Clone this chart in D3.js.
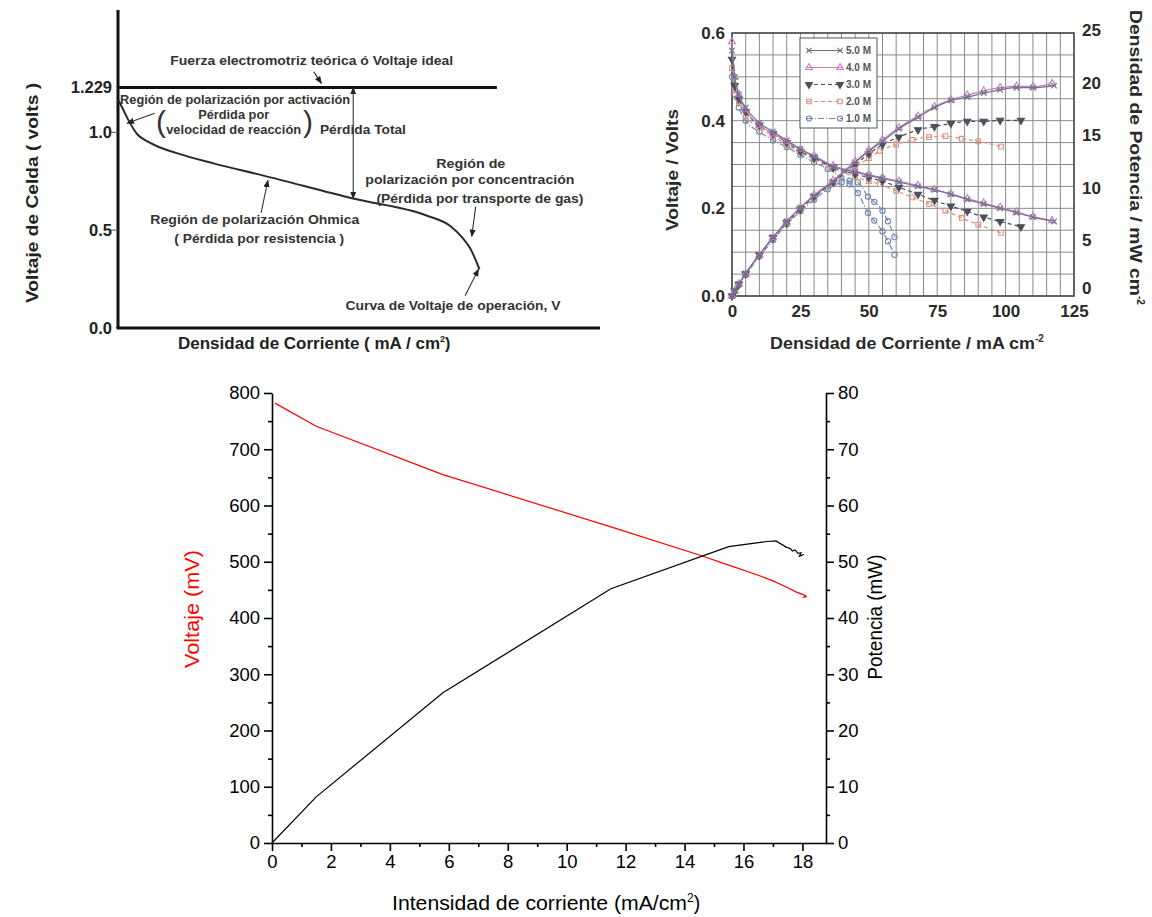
<!DOCTYPE html>
<html>
<head>
<meta charset="utf-8">
<script src="https://cdn.jsdelivr.net/npm/d3@7"></script>
<style>
body { margin: 0; background: #fff; }
svg { display: block; }
text { font-family: "Liberation Sans", Arial, sans-serif; }
</style>
</head>
<body>
<script>
// ---- top left: ideal polarization curve
let polCurrent = [0, 1, 2, 4, 6, 8, 12, 20, 30, 49, 64, 69, 71.5, 73, 75];
let polVoltage = [1.168, 1.12, 1.07, 0.99, 0.955, 0.93, 0.895, 0.84, 0.78, 0.66, 0.575, 0.52, 0.46, 0.41, 0.30];
let idealVoltage = 1.229;
let polTicks = [0.0, 0.5, 1.0, 1.229];
let polTickLabels = ["0.0", "0.5", "1.0", "1.229"];

// ---- top right: methanol concentration curves
let concLabels = ["5.0 M", "4.0 M", "3.0 M", "2.0 M", "1.0 M"];
let current5M = [0, 1, 2.5, 5, 10, 15, 20, 25, 30, 37, 45, 50, 55, 61, 68, 74, 80, 86, 92, 98, 104, 110, 117.7];
let voltage5M = [0.56, 0.50, 0.46, 0.43, 0.395, 0.375, 0.355, 0.335, 0.318, 0.295, 0.283, 0.275, 0.268, 0.26, 0.25, 0.242, 0.232, 0.22, 0.21, 0.2, 0.19, 0.18, 0.17];
let power5M = [0, 0.5, 1.15, 2.15, 3.95, 5.6, 7.1, 8.4, 9.5, 10.9, 12.7, 13.75, 14.7, 15.9, 17.0, 17.9, 18.6, 18.9, 19.3, 19.6, 19.8, 19.8, 20.0];
let current4M = [0, 1, 2.5, 5, 10, 15, 20, 25, 30, 37, 45, 50, 55, 61, 68, 74, 80, 86, 92, 98, 104, 110, 117];
let voltage4M = [0.58, 0.50, 0.46, 0.425, 0.39, 0.37, 0.352, 0.335, 0.32, 0.297, 0.285, 0.277, 0.27, 0.262, 0.252, 0.243, 0.233, 0.222, 0.212, 0.202, 0.192, 0.181, 0.172];
let power4M = [0, 0.5, 1.15, 2.1, 3.9, 5.55, 7.05, 8.4, 9.6, 11.0, 12.8, 13.85, 14.85, 16.0, 17.1, 18.0, 18.65, 19.1, 19.5, 19.8, 19.95, 19.9, 20.2];
let current3M = [0, 1, 2.5, 5, 10, 15, 20, 25, 30, 37, 45, 50, 55, 61, 68, 74, 80, 86, 92, 98, 105.6];
let voltage3M = [0.54, 0.48, 0.45, 0.42, 0.39, 0.37, 0.35, 0.33, 0.315, 0.293, 0.278, 0.27, 0.262, 0.248, 0.232, 0.218, 0.205, 0.193, 0.18, 0.17, 0.158];
let power3M = [0, 0.48, 1.1, 2.1, 3.9, 5.55, 7.0, 8.25, 9.45, 10.8, 12.5, 13.5, 14.4, 15.1, 15.8, 16.1, 16.4, 16.6, 16.6, 16.7, 16.7];
let current2M = [0, 1, 2.5, 5, 10, 15, 20, 25, 30, 37, 45, 50, 54, 60, 66, 72, 78, 84, 90, 98.3];
let voltage2M = [0.52, 0.47, 0.44, 0.41, 0.385, 0.365, 0.345, 0.328, 0.312, 0.29, 0.272, 0.262, 0.255, 0.24, 0.225, 0.21, 0.195, 0.178, 0.163, 0.144];
let power2M = [0, 0.47, 1.1, 2.05, 3.85, 5.5, 6.9, 8.2, 9.35, 10.7, 12.2, 13.1, 13.8, 14.4, 14.85, 15.1, 15.2, 14.95, 14.7, 14.2];
let current1M = [0, 1, 2.5, 5, 10, 15, 20, 25, 30, 35, 40, 43, 46, 49.7, 52, 55, 57, 59.4];
let voltage1M = [0.5, 0.46, 0.43, 0.4, 0.375, 0.355, 0.34, 0.322, 0.305, 0.29, 0.27, 0.255, 0.235, 0.19, 0.172, 0.147, 0.125, 0.094];
let power1M = [0, 0.46, 1.07, 2.0, 3.75, 5.3, 6.8, 8.05, 9.15, 10.15, 10.8, 10.95, 10.8, 9.45, 8.95, 8.1, 7.1, 5.6];
let trCurrentTicks = [0, 25, 50, 75, 100, 125];
let trVoltTicks = [0, 0.2, 0.4, 0.6];
let trPowerTicks = [0, 5, 10, 15, 20, 25];

// ---- bottom: measured cell
let cellCurrent = [0.1, 1.5, 5.8, 11.5, 14.5, 15.5, 16.5, 17.0, 17.45, 17.8, 18.0, 18.1, 18.05, 18.15];
let cellVoltage = [782, 741, 655, 562, 512, 494, 476, 466, 455, 446, 442, 440, 437, 438];
let powerCurrent = [0, 1.5, 5.8, 11.5, 15.5, 16.8, 17.1, 17.45, 17.6, 17.66, 17.75, 17.85, 17.95, 17.9, 18.05];
let cellPower = [0, 8.2, 26.7, 45.2, 52.7, 53.6, 53.7, 52.6, 52.3, 51.9, 52.1, 51.5, 51.6, 51.0, 51.3];
let bottomCurrentTicks = d3.range(0, 19, 2);
let bottomVoltTicks = d3.range(0, 801, 100);
let bottomPowerTicks = d3.range(0, 81, 10);

var svg = d3.select("body").append("svg")
    .attr("width", 1152)
    .attr("height", 917);

var defs = svg.append("defs");
defs.append("marker")
    .attr("id", "arrow")
    .attr("viewBox", "0 0 10 10")
    .attr("refX", 9).attr("refY", 5)
    .attr("markerWidth", 7).attr("markerHeight", 7)
    .attr("orient", "auto-start-reverse")
    .append("path").attr("d", "M0,1 L10,5 L0,9 Z").attr("fill", "#222");

/* ================= TOP LEFT ================= */
var tl = svg.append("g");
var xTL = d3.scaleLinear().domain([0, 100]).range([118, 600]);
var yTL = d3.scaleLinear().domain([0, idealVoltage]).range([328, 87.5]);

// axes (thick lines)
tl.append("line").attr("x1", xTL(0)).attr("x2", xTL(0)).attr("y1", 10).attr("y2", yTL(0))
    .attr("stroke", "#111").attr("stroke-width", 3);
tl.append("line").attr("x1", xTL(0) - 1.5).attr("x2", xTL(100)).attr("y1", yTL(0)).attr("y2", yTL(0))
    .attr("stroke", "#111").attr("stroke-width", 3);
// ideal voltage line
tl.append("line").attr("x1", xTL(0)).attr("x2", xTL(78.6)).attr("y1", yTL(idealVoltage)).attr("y2", yTL(idealVoltage))
    .attr("stroke", "#111").attr("stroke-width", 3);

// ticks + labels
polTicks.forEach((t, i) => {
    if (t == 0.5 || t == 1.0) {
        tl.append("line").attr("x1", xTL(0) - 8).attr("x2", xTL(0)).attr("y1", yTL(t)).attr("y2", yTL(t))
            .attr("stroke", "#555").attr("stroke-width", 1);
    }
    tl.append("text").attr("x", 112).attr("y", yTL(t)).attr("dy", "0.35em")
        .attr("text-anchor", "end").attr("font-weight", "bold").attr("font-size", 16.5)
        .attr("fill", "#222").text(polTickLabels[i]);
});

// curve
tl.append("path")
    .datum(polCurrent.map((c, i) => [c, polVoltage[i]]))
    .attr("fill", "none").attr("stroke", "#2a2a2a").attr("stroke-width", 2)
    .attr("d", d3.line().x(d => xTL(d[0])).y(d => yTL(d[1])).curve(d3.curveMonotoneX));

// titles
tl.append("text").attr("transform", "translate(38,193) rotate(-90)")
    .attr("text-anchor", "middle").attr("font-weight", "bold").attr("font-size", 16).attr("fill", "#222")
    .attr("textLength", 220).attr("lengthAdjust", "spacingAndGlyphs")
    .text("Voltaje de Celda  ( volts )");
var tlx = tl.append("text").attr("x", 178).attr("y", 349)
    .attr("font-weight", "bold").attr("font-size", 16).attr("fill", "#222");
tlx.append("tspan").attr("textLength", 262).attr("lengthAdjust", "spacingAndGlyphs").text("Densidad de Corriente  ( mA / cm");
tlx.append("tspan").attr("font-size", 9).attr("dy", -7).text("2");
tlx.append("tspan").attr("dy", 7).text(")");

// annotations
var note = (txt, x, v, w, anchor) => {
    tl.append("text").attr("x", xTL(x)).attr("y", yTL(v)).attr("dy", "0.35em")
        .attr("text-anchor", anchor || "middle").attr("font-weight", "bold")
        .attr("font-size", 12.5).attr("fill", "#333")
        .attr("textLength", w).attr("lengthAdjust", "spacingAndGlyphs")
        .text(txt);
};
var arrow = (x1, v1, x2, v2, both) => {
    tl.append("line").attr("x1", xTL(x1)).attr("y1", yTL(v1)).attr("x2", xTL(x2)).attr("y2", yTL(v2))
        .attr("stroke", "#333").attr("stroke-width", 1.1)
        .attr("marker-end", "url(#arrow)")
        .attr("marker-start", both ? "url(#arrow)" : null);
};
note("Fuerza electromotriz teórica ó Voltaje ideal", 40.2, 1.367, 283);
arrow(40.6, 1.31, 42.2, 1.25);
note("Región de polarización por activación", 24.3, 1.168, 230);
note("Pérdida por", 24.0, 1.092, 71);
note("velocidad de reacción", 24.0, 1.015, 135);
tl.append("text").attr("x", xTL(8.9)).attr("y", yTL(1.056)).attr("dy", "0.35em").attr("text-anchor", "middle")
    .attr("font-size", 30).attr("fill", "#333").text("(");
tl.append("text").attr("x", xTL(39.4)).attr("y", yTL(1.056)).attr("dy", "0.35em").attr("text-anchor", "middle")
    .attr("font-size", 30).attr("fill", "#333").text(")");
arrow(7.6, 1.097, 1.9, 1.046);
note("Pérdida Total", 41.9, 1.015, 86, "start");
arrow(48.8, idealVoltage, 48.8, 0.662, true);
note("Región de", 73.2, 0.842, 69);
note("polarización por concentración", 73.0, 0.76, 209);
note("(Pérdida por transporte de gas)", 75.1, 0.663, 207);
arrow(74.2, 0.62, 73.4, 0.468);
note("Región de polarización Ohmica", 28.4, 0.556, 209);
note("( Pérdida por resistencia )", 29.3, 0.459, 170);
arrow(29.7, 0.59, 31.1, 0.755);
note("Curva de Voltaje de operación, V", 69.5, 0.112, 215);
arrow(72.0, 0.165, 74.8, 0.30);

/* ================= TOP RIGHT ================= */
var tr = svg.append("g");
var xTR = d3.scaleLinear().domain([0, 125]).range([732, 1074]);
var yTRv = d3.scaleLinear().domain([0, 0.6]).range([296, 33]);
var yTRp = d3.scaleLinear().domain([0, 25]).range([296, 33]);

// grid
tr.selectAll("line.gv").data(d3.range(0, 126, 5)).enter().append("line")
    .attr("x1", d => xTR(d)).attr("x2", d => xTR(d)).attr("y1", yTRv(0)).attr("y2", yTRv(0.6))
    .attr("stroke", "#8a8a8a").attr("stroke-width", 1);
tr.selectAll("line.gh").data(d3.range(0, 0.601, 0.05)).enter().append("line")
    .attr("x1", xTR(0)).attr("x2", xTR(125)).attr("y1", d => yTRv(d)).attr("y2", d => yTRv(d))
    .attr("stroke", "#8a8a8a").attr("stroke-width", 1);
tr.append("rect").attr("x", xTR(0)).attr("y", yTRv(0.6))
    .attr("width", xTR(125) - xTR(0)).attr("height", yTRv(0) - yTRv(0.6))
    .attr("fill", "none").attr("stroke", "#444").attr("stroke-width", 1.5);

var series = [
    { name: concLabels[0], cur: current5M, v: voltage5M, p: power5M, color: "#6e7290", dash: null, sym: d3.symbolTimes || d3.symbolCross, fill: false },
    { name: concLabels[1], cur: current4M, v: voltage4M, p: power4M, color: "#c67fb8", dash: null, sym: d3.symbolTriangle, fill: false },
    { name: concLabels[2], cur: current3M, v: voltage3M, p: power3M, color: "#4e4e5c", dash: "4,3", sym: d3.symbolTriangle, fill: true, flip: true },
    { name: concLabels[3], cur: current2M, v: voltage2M, p: power2M, color: "#dd8f7c", dash: "4,3", sym: d3.symbolSquare, fill: false },
    { name: concLabels[4], cur: current1M, v: voltage1M, p: power1M, color: "#7088b2", dash: "6,2,1,2", sym: d3.symbolCircle, fill: false }
];

var lineTR = d3.line().curve(d3.curveMonotoneX);
series.slice().reverse().forEach(s => {
    [["v", yTRv], ["p", yTRp]].forEach(([key, ys]) => {
        var pts = s.cur.map((c, i) => [xTR(c), ys(s[key][i])]);
        tr.append("path").attr("d", lineTR(pts))
            .attr("fill", "none").attr("stroke", s.color).attr("stroke-width", 1.2)
            .attr("stroke-dasharray", s.dash);
        tr.selectAll(null).data(pts).enter().append("path")
            .attr("transform", d => `translate(${d[0]},${d[1]})` + (s.flip ? " rotate(180)" : ""))
            .attr("d", d3.symbol().type(s.sym).size(22))
            .attr("fill", s.fill ? s.color : "none")
            .attr("stroke", s.color).attr("stroke-width", 1.1);
    });
});

// legend
var lg = tr.append("g");
lg.append("rect").attr("x", 800).attr("y", 38).attr("width", 77).attr("height", 90)
    .attr("fill", "#fff").attr("stroke", "#555").attr("stroke-width", 1);
series.forEach((s, i) => {
    var y = 50.5 + i * 17;
    lg.append("line").attr("x1", 807).attr("x2", 842).attr("y1", y).attr("y2", y)
        .attr("stroke", s.color).attr("stroke-width", 1.2).attr("stroke-dasharray", s.dash);
    [809, 840].forEach(x => {
        lg.append("path").attr("transform", `translate(${x},${y})` + (s.flip ? " rotate(180)" : ""))
            .attr("d", d3.symbol().type(s.sym).size(20))
            .attr("fill", s.fill ? s.color : "none").attr("stroke", s.color).attr("stroke-width", 1.1);
    });
    lg.append("text").attr("x", 846).attr("y", y).attr("dy", "0.35em")
        .attr("font-family", "'Liberation Serif', serif").attr("font-size", 10).attr("font-weight", "bold")
        .attr("fill", "#555").text(s.name);
});

// tick labels
var boldTick = sel => sel.selectAll("text").attr("font-weight", "bold").attr("font-size", 17)
    .attr("fill", "#2a2a2a").attr("font-family", "'Liberation Sans', Arial, sans-serif");
tr.append("g").attr("transform", `translate(${xTR(0)},0)`)
    .call(d3.axisLeft(yTRv).tickValues(trVoltTicks).tickFormat(d3.format(".1f")).tickSize(0).tickPadding(7))
    .call(g => g.select(".domain").remove()).call(boldTick);
tr.append("g").attr("transform", `translate(${xTR(125)},-3)`)
    .call(d3.axisRight(yTRp).tickValues(trPowerTicks).tickSize(0).tickPadding(8))
    .call(g => g.select(".domain").remove()).call(boldTick)
    .call(g => g.selectAll(".tick").filter(d => d == 0).select("text").attr("dy", "0.05em"));
tr.append("g").attr("transform", `translate(0,${yTRv(0)})`)
    .call(d3.axisBottom(xTR).tickValues(trCurrentTicks).tickSize(0).tickPadding(9))
    .call(g => g.select(".domain").remove()).call(boldTick);

tr.append("text").attr("transform", "translate(678,170) rotate(-90)")
    .attr("text-anchor", "middle").attr("font-weight", "bold").attr("font-size", 16).attr("fill", "#2a2a2a")
    .attr("textLength", 122).attr("lengthAdjust", "spacingAndGlyphs")
    .text("Voltaje / Volts");
var trr = tr.append("text").attr("transform", "translate(1130,10) rotate(90)")
    .attr("font-weight", "bold").attr("font-size", 17).attr("fill", "#2a2a2a");
trr.append("tspan").attr("textLength", 286).attr("lengthAdjust", "spacingAndGlyphs").text("Densidad de Potencia / mW cm");
trr.append("tspan").attr("font-size", 10).attr("dy", -7).text("-2");
var trx = tr.append("text").attr("x", 770).attr("y", 349)
    .attr("font-weight", "bold").attr("font-size", 16).attr("fill", "#2a2a2a");
trx.append("tspan").attr("textLength", 265).attr("lengthAdjust", "spacingAndGlyphs").text("Densidad de Corriente / mA cm");
trx.append("tspan").attr("font-size", 10).attr("dy", -7).text("-2");

/* ================= BOTTOM ================= */
var bt = svg.append("g");
var xB = d3.scaleLinear().domain([0, 18.8]).range([272, 826]);
var yBv = d3.scaleLinear().domain([0, 800]).range([843, 393]);
var yBp = d3.scaleLinear().domain([0, 80]).range([843, 393]);

var styleAxis = g => {
    g.select(".domain").attr("stroke", "#000").attr("stroke-width", 1.6);
    g.selectAll(".tick line").attr("stroke", "#000").attr("stroke-width", 1.6);
    g.selectAll("text").attr("font-size", 18.5).attr("fill", "#000")
        .attr("font-family", "'Liberation Sans', Arial, sans-serif");
};
var minorAxis = g => {
    g.select(".domain").remove();
    g.selectAll("text").remove();
    g.selectAll(".tick line").attr("stroke", "#000").attr("stroke-width", 1.6);
};

bt.append("g").attr("transform", `translate(0,${yBv(0)})`)
    .call(d3.axisBottom(xB).tickValues(d3.range(1, 19, 2)).tickSize(4).tickFormat("")).call(minorAxis);
bt.append("g").attr("transform", `translate(0,${yBv(0)})`)
    .call(d3.axisBottom(xB).tickValues(bottomCurrentTicks).tickSize(8).tickSizeOuter(0).tickPadding(4)).call(styleAxis);

bt.append("g").attr("transform", `translate(${xB(0)},0)`)
    .call(d3.axisLeft(yBv).tickValues(d3.range(50, 800, 100)).tickSize(4).tickFormat("")).call(minorAxis);
bt.append("g").attr("transform", `translate(${xB(0)},0)`)
    .call(d3.axisLeft(yBv).tickValues(bottomVoltTicks).tickSize(8).tickSizeOuter(0).tickPadding(4)).call(styleAxis);

bt.append("g").attr("transform", `translate(${xB(18.8)},0)`)
    .call(d3.axisRight(yBp).tickValues(d3.range(5, 80, 10)).tickSize(4).tickFormat("")).call(minorAxis);
bt.append("g").attr("transform", `translate(${xB(18.8)},0)`)
    .call(d3.axisRight(yBp).tickValues(bottomPowerTicks).tickSize(8).tickSizeOuter(0).tickPadding(4)).call(styleAxis);

bt.append("path")
    .datum(cellCurrent.map((c, i) => [c, cellVoltage[i]]))
    .attr("fill", "none").attr("stroke", "#ff0000").attr("stroke-width", 1.2)
    .attr("d", d3.line().x(d => xB(d[0])).y(d => yBv(d[1])));
bt.append("path")
    .datum(powerCurrent.map((c, i) => [c, cellPower[i]]))
    .attr("fill", "none").attr("stroke", "#000").attr("stroke-width", 1.2)
    .attr("d", d3.line().x(d => xB(d[0])).y(d => yBp(d[1])));

bt.append("text").attr("transform", "translate(199,609) rotate(-90)")
    .attr("text-anchor", "middle").attr("font-size", 19.5).attr("fill", "#ff0000")
    .attr("textLength", 118).attr("lengthAdjust", "spacingAndGlyphs")
    .text("Voltaje (mV)");
bt.append("text").attr("transform", "translate(882,617) rotate(-90)")
    .attr("text-anchor", "middle").attr("font-size", 19.5).attr("fill", "#000")
    .attr("textLength", 125).attr("lengthAdjust", "spacingAndGlyphs")
    .text("Potencia (mW)");
var btx = bt.append("text").attr("x", 392).attr("y", 910)
    .attr("font-size", 19.5).attr("fill", "#000");
btx.append("tspan").attr("textLength", 295).attr("lengthAdjust", "spacingAndGlyphs").text("Intensidad de corriente (mA/cm");
btx.append("tspan").attr("font-size", 12).attr("dy", -8).text("2");
btx.append("tspan").attr("dy", 8).text(")");
</script>
</body>
</html>
